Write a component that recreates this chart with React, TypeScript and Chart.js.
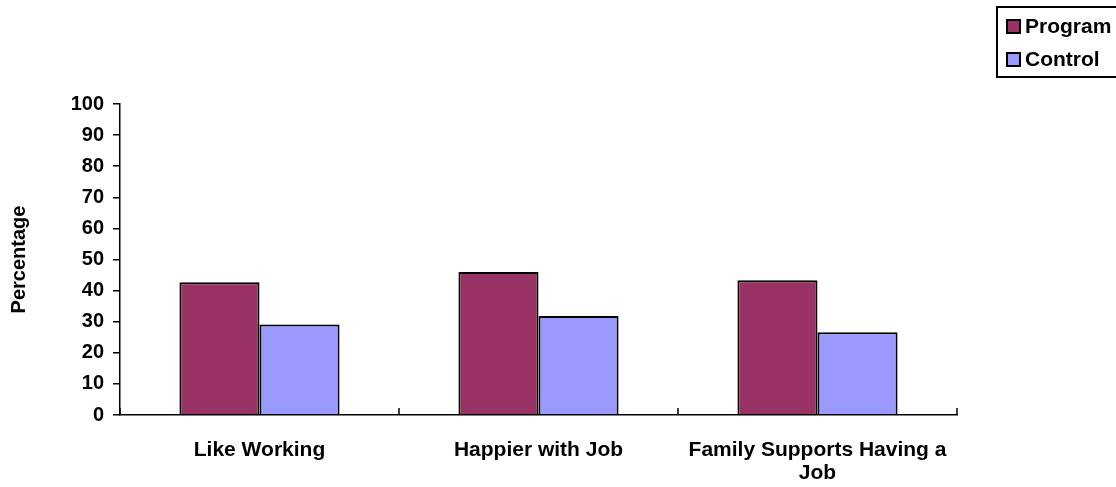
import { useEffect, useRef } from "react";
import { Chart, registerables } from "chart.js";

Chart.register(...registerables);

// Data
const categories: string[][] = [
  ["Like Working"],
  ["Happier with Job"],
  ["Family Supports Having a", "Job"],
];
const programValues = [42.7, 46.0, 43.3];
const controlValues = [29.1, 31.8, 26.6];
const seriesNames = ["Program", "Control"];
const yMin = 0;
const yMax = 100;
const yStep = 10;

const FONT = "'Liberation Sans', Arial, Helvetica, sans-serif";
const PROGRAM_COLOR = "#993366";
const CONTROL_COLOR = "#9999FF";

// Short upward tick marks on the category boundaries of the x axis
const categoryTicks = {
  id: "categoryTicks",
  afterDraw(chart: any) {
    const x = chart.scales.x;
    const y = chart.scales.y;
    const ctx = chart.ctx;
    const n = chart.data.labels.length;
    const base = y.getPixelForValue(0);
    ctx.save();
    ctx.strokeStyle = "#000";
    ctx.lineWidth = 1.5;
    for (let i = 0; i <= n; i++) {
      const px = x.getPixelForValue(i - 0.5);
      ctx.beginPath();
      ctx.moveTo(px, base);
      ctx.lineTo(px, base - 7);
      ctx.stroke();
    }
    ctx.restore();
  },
};

// Boxed legend in the top-right corner
const boxedLegend = {
  id: "boxedLegend",
  afterDraw(chart: any) {
    const ctx = chart.ctx;
    const left = 997;
    const top = 7;
    const rowH = 33;
    ctx.save();
    ctx.strokeStyle = "#000";
    ctx.lineWidth = 2;
    ctx.strokeRect(left, top, 140, 70);
    ctx.font = `bold 21px ${FONT}`;
    ctx.textBaseline = "middle";
    ctx.textAlign = "left";
    chart.data.datasets.forEach((ds: any, i: number) => {
      const cy = top + 19 + i * rowH;
      ctx.fillStyle = ds.backgroundColor;
      ctx.fillRect(1007, cy - 6, 13, 13);
      ctx.lineWidth = 2;
      ctx.strokeStyle = "#000";
      ctx.strokeRect(1007, cy - 6, 13, 13);
      ctx.fillStyle = "#000";
      ctx.fillText(ds.label, 1025, cy + 1);
    });
    ctx.restore();
  },
};

export default function App() {
  const canvasRef = useRef<HTMLCanvasElement | null>(null);

  useEffect(() => {
    if (!canvasRef.current) return;
    const chart = new Chart(canvasRef.current, {
      type: "bar",
      data: {
        labels: categories,
        datasets: [
          {
            label: seriesNames[0],
            data: programValues,
            backgroundColor: PROGRAM_COLOR,
            borderColor: "#000",
            borderWidth: 2,
          },
          {
            label: seriesNames[1],
            data: controlValues,
            backgroundColor: CONTROL_COLOR,
            borderColor: "#000",
            borderWidth: 2,
          },
        ],
      },
      options: {
        animation: false,
        responsive: true,
        maintainAspectRatio: false,
        datasets: {
          bar: { categoryPercentage: 0.574, barPercentage: 1 },
        },
        layout: { padding: { top: 104, right: 159, bottom: 0, left: 0 } },
        plugins: {
          legend: { display: false },
          tooltip: { enabled: false },
        },
        scales: {
          x: {
            offset: true,
            grid: { display: false },
            border: { display: true, color: "#000", width: 1.5 },
            ticks: {
              color: "#000",
              padding: 16,
              maxRotation: 0,
              autoSkip: false,
              font: { family: FONT, size: 21, weight: "bold", lineHeight: 1.1 },
            },
            afterFit(scale: any) {
              scale.height = 72;
            },
          },
          y: {
            min: yMin,
            max: yMax,
            ticks: {
              stepSize: yStep,
              color: "#000",
              padding: 9,
              font: { family: FONT, size: 20, weight: "bold" },
            },
            grid: {
              drawOnChartArea: false,
              drawTicks: true,
              tickLength: 7,
              color: "#000",
              lineWidth: 1.5,
            },
            border: { display: true, color: "#000", width: 1.5 },
            title: {
              display: true,
              text: "Percentage",
              color: "#000",
              padding: { top: 7, bottom: 0 },
              font: { family: FONT, size: 20, weight: "bold" },
            },
            afterFit(scale: any) {
              scale.width = 120;
            },
          },
        },
      },
      plugins: [categoryTicks, boxedLegend],
    });
    return () => chart.destroy();
  }, []);

  return (
    <div style={{ position: "absolute", left: 0, top: 0, width: 1116, height: 487, background: "#fff" }}>
      <canvas ref={canvasRef} />
    </div>
  );
}
